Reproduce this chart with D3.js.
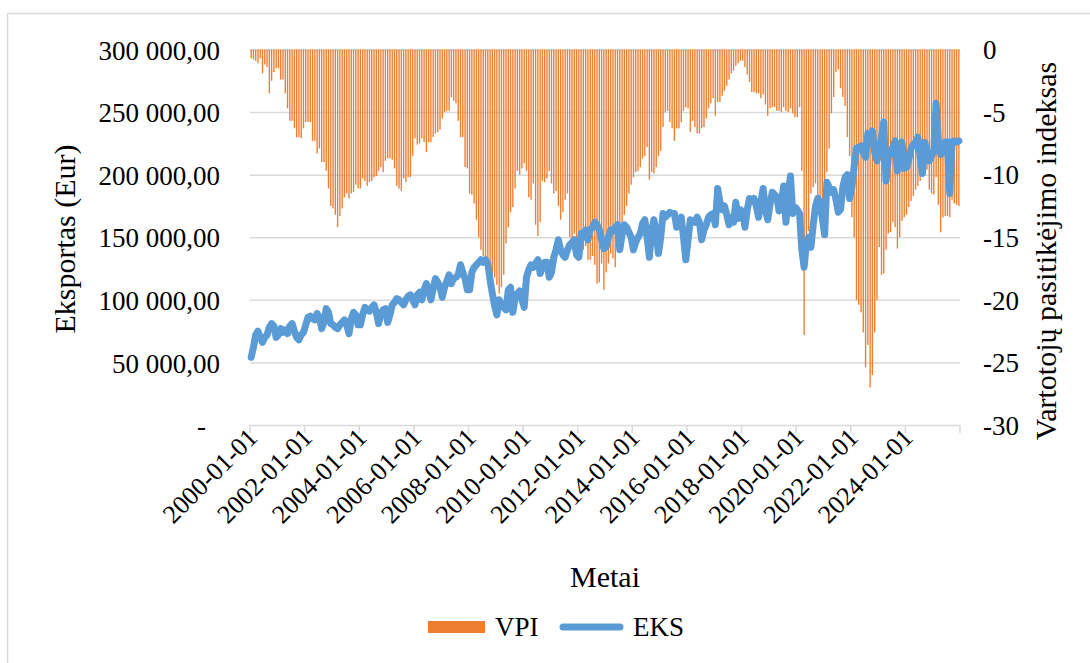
<!DOCTYPE html>
<html>
<head>
<meta charset="utf-8">
<script src="https://cdn.jsdelivr.net/npm/d3@7"></script>
<style>
	body { margin: 0; background: #fff; }
	svg { display: block; }
	text { font-family: "Liberation Serif", "Times New Roman", serif; }
	.grid line { stroke: #d9d9d9; stroke-width: 1.5; }
	.grid path { display: none; }
	.tick-label { font-size: 27px; fill: #000; }
	.x-label { font-size: 26px; fill: #000; }
	.title { font-size: 30px; fill: #000; }
</style>
</head>
<body>
<script>
// categories: one per month, 2000-01 .. 2025-12
const months = d3.timeMonth
	.range(new Date(2000, 0, 1), new Date(2026, 0, 1))
	.map(d3.timeFormat("%Y-%m-%d"));

// VPI - vartotoju pasitikejimo indeksas (right axis)
const vpi = [
	-0.7, -0.8, -0.9, -1.1, -0.7, -1.9, -1.2, -1.4, -3.5, -2.5, -1.8, -1.5,
	-1.5, -2.4, -2.4, -3.5, -4.7, -5.7, -5.7, -6.3, -7.0, -7.0, -7.1, -6.3,
	-5.8, -5.8, -5.8, -7.3, -7.3, -8.3, -7.9, -9.0, -9.0, -9.7, -11.1, -12.5,
	-12.7, -13.2, -14.2, -13.3, -12.7, -11.8, -11.5, -11.9, -11.5, -11.4, -10.8, -11.1,
	-11.1, -10.3, -10.5, -10.9, -10.6, -10.5, -10.2, -10.1, -9.7, -9.4, -9.8, -8.9,
	-8.7, -8.7, -8.8, -9.5, -10.9, -11.1, -11.3, -10.3, -10.6, -10.2, -10.2, -8.5,
	-7.1, -7.6, -7.5, -7.1, -7.4, -8.2, -7.4, -7.4, -7.0, -6.7, -6.6, -6.4,
	-5.5, -5.0, -4.9, -4.9, -3.8, -4.1, -4.3, -5.7, -7.0, -7.0, -9.4, -9.5,
	-11.5, -11.6, -12.3, -13.6, -15.0, -16.0, -16.5, -16.5, -17.0, -17.5, -18.0, -18.2,
	-18.8, -19.5, -19.0, -18.0, -15.5, -14.2, -13.0, -12.6, -11.1, -9.7, -10.0, -9.5,
	-9.1, -9.7, -11.8, -12.0, -10.7, -14.0, -14.9, -13.8, -10.5, -10.6, -10.3, -9.7,
	-10.7, -11.5, -11.3, -12.5, -13.6, -13.0, -12.0, -11.5, -15.0, -15.4, -14.7, -15.5,
	-15.0, -15.7, -16.0, -15.7, -16.8, -16.8, -16.5, -17.2, -18.7, -18.6, -17.1, -19.2,
	-17.8, -17.1, -16.3, -16.7, -17.4, -16.0, -14.8, -14.2, -13.2, -12.5, -11.5, -10.8,
	-10.2, -9.8, -9.7, -9.4, -8.7, -8.5, -7.8, -10.4, -9.8, -9.9, -9.4, -8.5,
	-8.1, -6.2, -5.0, -4.9, -5.8, -6.3, -7.3, -6.3, -6.3, -5.8, -4.9, -4.6,
	-4.7, -6.6, -5.7, -6.2, -6.7, -6.7, -6.3, -6.2, -5.5, -4.7, -4.3, -3.9,
	-5.3, -4.2, -4.2, -3.7, -3.3, -2.9, -2.4, -1.9, -1.7, -1.3, -1.1, -0.9,
	-0.9, -1.4, -2.0, -2.6, -3.4, -3.4, -3.5, -3.5, -3.9, -3.6, -4.4, -5.3,
	-4.7, -4.6, -4.6, -4.9, -4.9, -5.0, -4.6, -4.9, -5.0, -4.7, -5.1, -5.4,
	-5.4, -4.6, -9.7, -22.8, -17.0, -14.5, -11.5, -11.0, -10.7, -12.8, -13.4, -14.4,
	-12.3, -9.8, -7.9, -5.1, -3.8, -1.8, -1.6, -3.1, -3.8, -4.5, -7.0, -8.5,
	-13.4, -15.0, -20.0, -20.4, -21.0, -22.6, -25.4, -23.6, -27.0, -26.0, -22.6, -20.0,
	-15.8, -18.0, -17.9, -16.0, -14.7, -14.6, -13.8, -14.2, -15.9, -15.0, -13.7, -13.4,
	-13.2, -12.6, -12.1, -11.7, -11.2, -10.9, -10.5, -10.1, -10.0, -9.6, -11.2, -11.5,
	-11.6, -10.2, -12.4, -14.6, -13.4, -13.3, -13.3, -13.4, -12.0, -12.3, -12.4, -12.5
];

// EKS - eksportas, thousand EUR (left axis)
const eksK = [
	54, 62, 72, 75, 70, 66, 70, 72, 78, 81, 79, 70,
	72, 77, 74, 76, 73, 79, 81, 75, 70, 68, 72, 74,
	80, 86, 87, 85, 84, 89, 86, 77, 82, 93, 90, 81,
	80, 78, 77, 80, 82, 84, 80, 73, 85, 90, 88, 80,
	80, 88, 94, 92, 91, 94, 96, 90, 81, 89, 92, 93,
	82, 88, 96, 98, 101, 100, 98, 96, 100, 103, 104, 100,
	96, 104, 106, 100, 108, 113, 108, 100, 109, 117, 114, 110,
	102, 110, 115, 120, 113, 117, 118, 120, 128, 122, 117, 108,
	108, 122, 126, 128, 130, 132, 130, 132, 129, 116, 105, 95,
	88, 100, 96, 94, 92, 108, 110, 90, 102, 105, 107, 100,
	94, 118, 124, 128, 126, 129, 132, 121, 126, 130, 130, 118,
	122, 134, 140, 148, 140, 136, 134, 140, 144, 146, 148, 136,
	134, 153, 150, 156, 148, 156, 158, 162, 160, 156, 148, 141,
	142, 150, 156, 155, 158, 160, 140, 152, 160, 158, 154, 150,
	140, 146, 150, 153, 161, 164, 150, 134, 155, 164, 153, 137,
	150, 169, 166, 168, 170, 169, 169, 158, 162, 166, 150, 132,
	148, 164, 163, 162, 166, 162, 148, 156, 160, 166, 168, 169,
	160, 189, 178, 172, 175, 168, 160, 166, 162, 178, 165, 172,
	170, 158, 172, 181, 179, 181, 175, 166, 178, 189, 172, 164,
	176, 186, 184, 182, 171, 178, 191, 162, 185, 199, 169, 174,
	172, 169, 140, 126, 145, 150, 142, 160, 175, 181, 178, 165,
	152, 194, 190, 186, 188, 180, 170, 172, 190, 198, 200, 181,
	190, 207, 221, 222, 223, 218, 214, 233, 226, 235, 218, 211,
	218, 230, 242, 195, 213, 218, 222, 227, 203, 215, 226, 205,
	206, 212, 221, 224, 226, 230, 214, 201, 226, 218, 211, 215,
	219, 257, 226, 216, 219, 226, 226, 185, 226, 227, 226, 227
];

const leftTicks = [0, 50000, 100000, 150000, 200000, 250000, 300000];
const rightTicks = [0, -5, -10, -15, -20, -25, -30];
const xTickLabels = months.filter((d, i) => i % 24 === 0);

const config = {
	width: 1090,
	height: 663,
	left: 250,
	right: 960,
	top: 49.5,
	bottom: 425,
	orange: "#ED7D31",
	blue: "#5B9BD5",
	grid: "#d9d9d9",
	font: "Liberation Serif"
};

const svg = d3.select("body")
	.append("svg")
	.attr("width", config.width)
	.attr("height", config.height)
	.attr("font-family", config.font);

// chart area frame (only top and left edges are inside the picture)
svg.append("rect")
	.attr("x", 7.5)
	.attr("y", 13.5)
	.attr("width", 1200)
	.attr("height", 800)
	.attr("fill", "none")
	.attr("stroke", config.grid)
	.attr("stroke-width", 1.5);

const x = d3.scaleBand()
	.domain(months)
	.range([config.left, config.right])
	.paddingInner(0.4)
	.paddingOuter(0.2);
const yLeft = d3.scaleLinear().domain([0, 300000]).range([config.bottom, config.top]);
const yRight = d3.scaleLinear().domain([-30, 0]).range([config.bottom, config.top]);

// boundary of a category (Excel ticks sit between categories)
const edge = i => config.left + i * x.step();

// gridlines
svg.append("g")
	.attr("class", "grid")
	.attr("transform", `translate(${config.left},0)`)
	.call(d3.axisLeft(yLeft).tickValues(leftTicks).tickSize(-(config.right - config.left)).tickFormat(""));

// x-axis ticks
const tickIdx = d3.range(0, months.length + 1, 24).concat(months.length % 24 ? [months.length] : []);
svg.append("g")
	.selectAll("line")
	.data(tickIdx)
	.join("line")
	.attr("x1", i => edge(i))
	.attr("x2", i => edge(i))
	.attr("y1", config.bottom)
	.attr("y2", config.bottom + 8)
	.attr("stroke", config.grid)
	.attr("stroke-width", 1.5);

// VPI bars
svg.append("g")
	.selectAll("rect")
	.data(vpi)
	.join("rect")
	.attr("x", (d, i) => x(months[i]))
	.attr("width", x.bandwidth())
	.attr("y", yRight(0))
	.attr("height", d => yRight(d) - yRight(0))
	.attr("fill", config.orange);

// EKS line
const line = d3.line()
	.x((d, i) => x(months[i]) + x.bandwidth() / 2)
	.y(d => yLeft(d * 1000));

svg.append("path")
	.datum(eksK)
	.attr("d", line)
	.attr("fill", "none")
	.attr("stroke", config.blue)
	.attr("stroke-width", 7)
	.attr("stroke-linejoin", "round")
	.attr("stroke-linecap", "round");

// left axis labels
const ltFormat = d3.formatLocale({ decimal: ",", thousands: "\u00a0", grouping: [3], currency: ["", ""] }).format(",.2f");
const leftAxis = svg.append("g")
	.attr("transform", "translate(220,0)")
	.call(d3.axisLeft(yLeft).tickValues(leftTicks).tickSize(0).tickPadding(0)
		.tickFormat(d => d === 0 ? "-" : ltFormat(d)))
	.attr("font-family", config.font)
	.attr("font-size", null);
leftAxis.select(".domain").remove();
leftAxis.selectAll("text")
	.attr("class", "tick-label")
	.attr("dy", "0.36em")
	.attr("x", d => d === 0 ? -14 : 0);

// right axis labels
const rightAxis = svg.append("g")
	.attr("transform", "translate(983,0)")
	.call(d3.axisRight(yRight).tickValues(rightTicks).tickSize(0).tickPadding(0)
		.tickFormat(d => String(d)))
	.attr("font-family", config.font)
	.attr("font-size", null);
rightAxis.select(".domain").remove();
rightAxis.selectAll("text")
	.attr("class", "tick-label")
	.attr("dy", "0.34em");

// x labels
svg.append("g")
	.selectAll("text")
	.data(xTickLabels)
	.join("text")
	.attr("class", "x-label")
	.attr("font-family", config.font)
	.attr("text-anchor", "end")
	.attr("transform", d => `translate(${edge(months.indexOf(d)) + 9},${config.bottom + 14}) rotate(-45)`)
	.text(d => d);

// titles
svg.append("text")
	.attr("class", "title")
	.attr("text-anchor", "middle")
	.attr("x", 605)
	.attr("y", 587)
	.text("Metai");

svg.append("text")
	.attr("class", "title")
	.attr("text-anchor", "middle")
	.attr("transform", "translate(75,239) rotate(-90)")
	.text("Eksportas (Eur)");

svg.append("text")
	.attr("class", "title")
	.attr("text-anchor", "middle")
	.attr("transform", "translate(1056,251) rotate(-90)")
	.text("Vartotojų pasitikėjimo indeksas");

// legend
const legend = svg.append("g");
legend.append("rect")
	.attr("x", 428).attr("y", 621)
	.attr("width", 57).attr("height", 12)
	.attr("fill", config.orange);
legend.append("text")
	.attr("class", "tick-label")
	.attr("x", 495).attr("y", 636)
	.text("VPI");
legend.append("line")
	.attr("x1", 563).attr("x2", 620)
	.attr("y1", 627).attr("y2", 627)
	.attr("stroke", config.blue)
	.attr("stroke-width", 7)
	.attr("stroke-linecap", "round");
legend.append("text")
	.attr("class", "tick-label")
	.attr("x", 633).attr("y", 636)
	.text("EKS");
</script>
</body>
</html>
